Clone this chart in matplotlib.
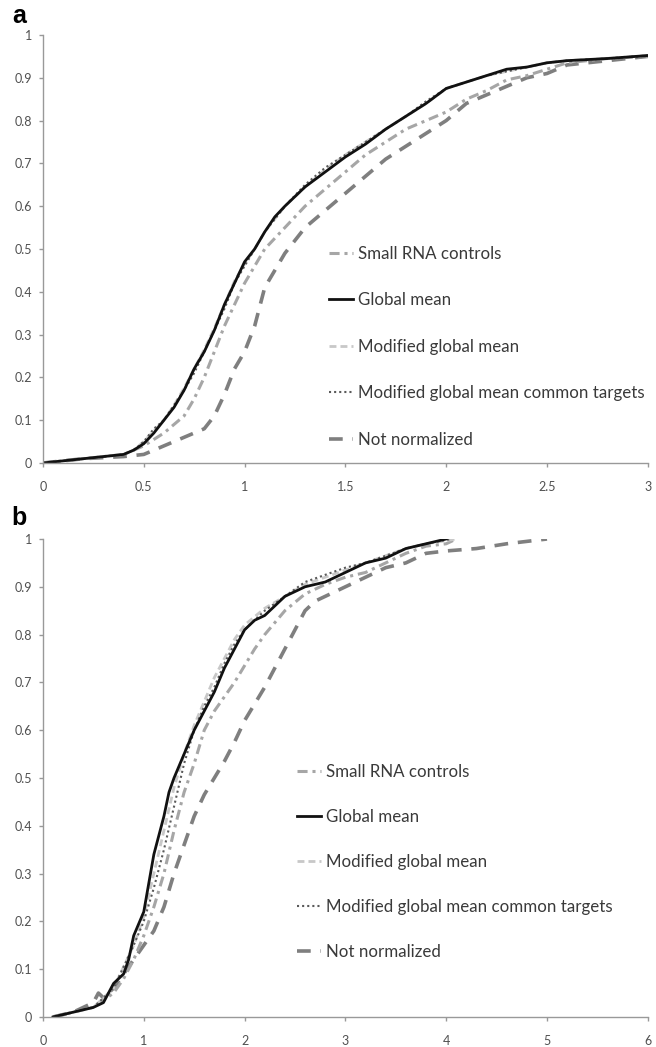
import numpy as np
import matplotlib.pyplot as plt

plt.rcParams['font.family'] = ['Lato', 'DejaVu Sans']

labels = ["Small RNA controls", "Global mean", "Modified global mean",
          "Modified global mean common targets", "Not normalized"]

# panel a: cumulative curves (x, y)
a_global_x = [0, 0.2, 0.4, 0.45, 0.5, 0.55, 0.6, 0.65, 0.7, 0.75, 0.8, 0.85, 0.9, 0.95, 1.0,
              1.05, 1.1, 1.15, 1.2, 1.3, 1.4, 1.5, 1.6, 1.7, 1.8, 1.9, 2.0, 2.1, 2.2, 2.3,
              2.4, 2.5, 2.6, 2.8, 3.0]
a_global_y = [0, 0.01, 0.02, 0.03, 0.045, 0.07, 0.1, 0.13, 0.17, 0.22, 0.26, 0.31, 0.37, 0.42, 0.47,
              0.5, 0.54, 0.575, 0.6, 0.645, 0.68, 0.715, 0.745, 0.78, 0.81, 0.84, 0.875, 0.89, 0.905, 0.92,
              0.925, 0.935, 0.94, 0.945, 0.952]
a_mod_x = a_global_x
a_mod_y = [0, 0.01, 0.02, 0.03, 0.05, 0.075, 0.1, 0.135, 0.175, 0.22, 0.265, 0.315, 0.37, 0.425, 0.465,
           0.5, 0.54, 0.57, 0.6, 0.645, 0.685, 0.72, 0.75, 0.78, 0.81, 0.84, 0.875, 0.89, 0.905, 0.915,
           0.925, 0.935, 0.94, 0.945, 0.952]
a_common_x = a_global_x
a_common_y = [0, 0.01, 0.02, 0.03, 0.05, 0.08, 0.1, 0.135, 0.17, 0.21, 0.26, 0.31, 0.36, 0.42, 0.46,
              0.5, 0.54, 0.57, 0.6, 0.65, 0.69, 0.72, 0.75, 0.78, 0.81, 0.845, 0.875, 0.89, 0.905, 0.915,
              0.925, 0.935, 0.94, 0.945, 0.952]
a_small_x = [0, 0.2, 0.4, 0.5, 0.6, 0.7, 0.75, 0.8, 0.85, 0.9, 0.95, 1.0, 1.05, 1.1, 1.2, 1.3,
             1.4, 1.5, 1.6, 1.7, 1.8, 1.9, 2.0, 2.1, 2.2, 2.3, 2.4, 2.5, 2.6, 2.8, 3.0]
a_small_y = [0, 0.01, 0.02, 0.04, 0.07, 0.11, 0.15, 0.2, 0.26, 0.32, 0.37, 0.42, 0.46, 0.5, 0.55, 0.6,
             0.64, 0.68, 0.72, 0.75, 0.78, 0.8, 0.82, 0.85, 0.87, 0.895, 0.905, 0.92, 0.935, 0.945, 0.95]
a_notnorm_x = [0, 0.2, 0.4, 0.5, 0.6, 0.7, 0.8, 0.85, 0.9, 0.95, 1.0, 1.05, 1.1, 1.15, 1.2, 1.3,
               1.4, 1.5, 1.6, 1.7, 1.8, 1.9, 2.0, 2.1, 2.2, 2.3, 2.4, 2.5, 2.6, 2.8, 3.0]
a_notnorm_y = [0, 0.01, 0.015, 0.02, 0.04, 0.06, 0.08, 0.11, 0.16, 0.22, 0.26, 0.32, 0.41, 0.45, 0.49, 0.55,
               0.59, 0.63, 0.67, 0.71, 0.74, 0.77, 0.8, 0.84, 0.86, 0.88, 0.9, 0.91, 0.93, 0.94, 0.95]

# panel b
b_global_x = [0.1, 0.3, 0.5, 0.6, 0.7, 0.8, 0.85, 0.9, 1.0, 1.05, 1.1, 1.15, 1.2, 1.25, 1.3, 1.4,
              1.5, 1.6, 1.7, 1.8, 1.9, 2.0, 2.1, 2.2, 2.3, 2.4, 2.5, 2.6, 2.8, 3.0, 3.2, 3.4,
              3.6, 3.8, 4.0]
b_global_y = [0, 0.01, 0.02, 0.03, 0.07, 0.09, 0.12, 0.17, 0.22, 0.28, 0.34, 0.38, 0.42, 0.47, 0.5, 0.55,
              0.6, 0.64, 0.68, 0.73, 0.77, 0.81, 0.83, 0.84, 0.86, 0.88, 0.89, 0.9, 0.91, 0.93, 0.95, 0.96,
              0.98, 0.99, 1.0]
b_mod_x = [0.1, 0.3, 0.5, 0.7, 0.9, 1.0, 1.1, 1.2, 1.3, 1.4, 1.5, 1.6, 1.7, 1.8, 1.9, 2.0,
           2.2, 2.4, 2.6, 2.8, 3.0, 3.2, 3.4, 3.6, 3.8, 4.1]
b_mod_y = [0, 0.01, 0.02, 0.06, 0.15, 0.21, 0.3, 0.39, 0.48, 0.55, 0.61, 0.66, 0.71, 0.75, 0.79, 0.82,
           0.855, 0.88, 0.905, 0.92, 0.935, 0.95, 0.965, 0.98, 0.99, 1.0]
b_common_x = [0.1, 0.3, 0.5, 0.7, 0.9, 1.0, 1.1, 1.2, 1.3, 1.4, 1.5, 1.6, 1.7, 1.8, 1.9, 2.0,
              2.2, 2.4, 2.6, 2.8, 3.0, 3.2, 3.4, 3.6, 3.8, 4.05]
b_common_y = [0, 0.01, 0.02, 0.06, 0.15, 0.2, 0.27, 0.35, 0.44, 0.53, 0.6, 0.65, 0.69, 0.74, 0.78, 0.81,
              0.85, 0.88, 0.91, 0.925, 0.94, 0.95, 0.965, 0.98, 0.99, 1.0]
b_small_x = [0.1, 0.3, 0.5, 0.7, 0.8, 0.9, 1.0, 1.1, 1.2, 1.3, 1.4, 1.5, 1.6, 1.7, 1.8, 1.9,
             2.0, 2.1, 2.2, 2.4, 2.6, 2.8, 3.0, 3.2, 3.4, 3.6, 3.8, 4.0, 4.1]
b_small_y = [0, 0.01, 0.02, 0.05, 0.08, 0.12, 0.17, 0.23, 0.3, 0.39, 0.47, 0.53, 0.6, 0.64, 0.67, 0.7,
             0.735, 0.77, 0.8, 0.85, 0.885, 0.905, 0.92, 0.93, 0.95, 0.97, 0.985, 0.99, 1.0]
b_notnorm_x = [0.1, 0.3, 0.4, 0.5, 0.55, 0.6, 0.7, 0.8, 0.9, 1.0, 1.1, 1.2, 1.3, 1.4, 1.5, 1.6,
               1.7, 1.8, 1.9, 2.0, 2.1, 2.2, 2.3, 2.4, 2.5, 2.6, 2.7, 2.8, 3.0, 3.2, 3.4, 3.6,
               3.8, 4.0, 4.3, 4.6, 5.0]
b_notnorm_y = [0, 0.01, 0.02, 0.03, 0.05, 0.04, 0.06, 0.09, 0.12, 0.15, 0.18, 0.23, 0.3, 0.36, 0.42, 0.465,
               0.5, 0.535, 0.575, 0.62, 0.655, 0.69, 0.73, 0.77, 0.81, 0.85, 0.87, 0.88, 0.9, 0.92, 0.94, 0.95,
               0.97, 0.975, 0.98, 0.99, 1.0]

# dash patterns are in units of line width
styles = [
    dict(color="#a6a6a6", lw=2.2, dashes=[3.3, 1.6, 1.0, 1.6]),  # small RNA controls
    dict(color="#111111", lw=2.0, linestyle="-"),                 # global mean
    dict(color="#c8c8c8", lw=2.0, dashes=[2.5, 1.45]),            # modified global mean
    dict(color="#5a5a5a", lw=1.5, dashes=[1.0, 1.45]),            # common targets
    dict(color="#7f7f7f", lw=2.6, dashes=[3.8, 2.7]),             # not normalized
]

fig = plt.figure(figsize=(6.56, 10.47), dpi=100)
ax_a = fig.add_axes([0.0655, 0.5578, 0.922, 0.4088])
ax_b = fig.add_axes([0.0655, 0.0287, 0.922, 0.4565])

panels = [
    (ax_a, [(a_small_x, a_small_y), (a_global_x, a_global_y), (a_mod_x, a_mod_y),
            (a_common_x, a_common_y), (a_notnorm_x, a_notnorm_y)],
     3, [0, 0.5, 1, 1.5, 2, 2.5, 3], ["0", "0.5", "1", "1.5", "2", "2.5", "3"],
     (0.462, 0.523), 1.80, "a", 0.978),
    (ax_b, [(b_small_x, b_small_y), (b_global_x, b_global_y), (b_mod_x, b_mod_y),
            (b_common_x, b_common_y), (b_notnorm_x, b_notnorm_y)],
     6, [0, 1, 2, 3, 4, 5, 6], ["0", "1", "2", "3", "4", "5", "6"],
     (0.409, 0.544), 1.72, "b", 0.4986),
]

# draw order: light ones first, black on top
order = [4, 0, 2, 3, 1]
for ax, curves, xmax, xt, xtl, leg_pos, spacing, tag, tag_y in panels:
    handles = [None] * 5
    for i in order:
        x, y = curves[i]
        (ln,) = ax.plot(x, y, label=labels[i], **styles[i])
        handles[i] = ln
    ax.set_xlim(0, xmax)
    ax.set_ylim(0, 1)
    ax.set_xticks(xt)
    ax.set_xticklabels(xtl)
    ax.set_yticks(np.arange(0, 1.01, 0.1))
    ax.set_yticklabels(["0", "0.1", "0.2", "0.3", "0.4", "0.5", "0.6", "0.7", "0.8", "0.9", "1"])
    for s in ["top", "right"]:
        ax.spines[s].set_visible(False)
    for s in ["left", "bottom"]:
        ax.spines[s].set_color("#999999")
        ax.spines[s].set_linewidth(1.0)
    ax.tick_params(colors="#999999", labelcolor="#505050", labelsize=9, length=3, width=1)
    ax.tick_params(axis="x", pad=10)
    ax.tick_params(axis="y", pad=5)
    leg = ax.legend(handles=handles, loc="upper left", bbox_to_anchor=leg_pos, frameon=False,
                    fontsize=12.2, labelspacing=spacing, handlelength=1.4, handletextpad=0.3,
                    borderaxespad=0)
    for t in leg.get_texts():
        t.set_color("#3a3a3a")
    fig.text(0.018, tag_y, tag, fontsize=18, fontweight="bold", family="Liberation Sans",
             va="baseline", ha="left")

fig.savefig("out.png", dpi=100)
